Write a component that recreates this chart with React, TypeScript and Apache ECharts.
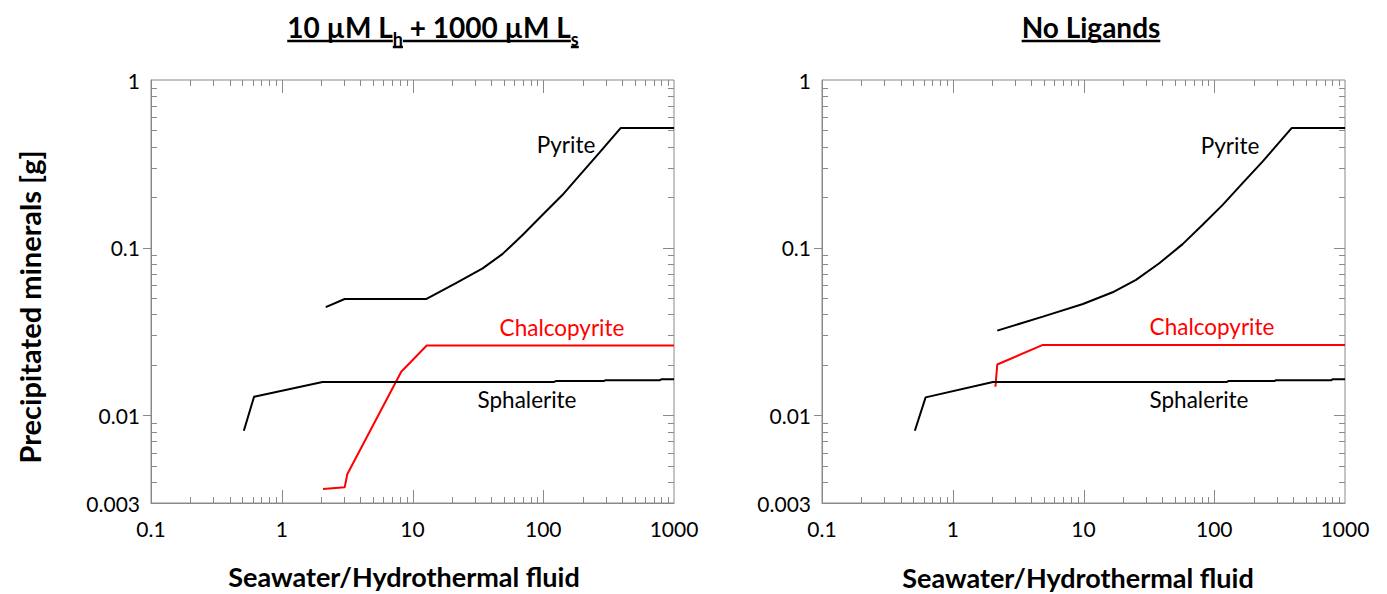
import { useEffect, useRef } from 'react';
import * as echarts from 'echarts';

// ---------- axes ----------
const X_MIN = 0.1;
const X_MAX = 1000;
const Y_MIN = 0.003;
const Y_MAX = 1;
const xTickLabels = ['0.1', '1', '10', '100', '1000'];
const yTickLabels = ['0.003', '0.01', '0.1', '1'];
const xMajorTicks = [1, 10, 100];
const xMinorTicks = [
  0.2, 0.3, 0.4, 0.5, 0.6, 0.7, 0.8, 0.9,
  2, 3, 4, 5, 6, 7, 8, 9,
  20, 30, 40, 50, 60, 70, 80, 90,
  200, 300, 400, 500, 600, 700, 800, 900,
];
const yMajorTicks = [0.01, 0.1];
const yMinorTicks = [
  0.004, 0.005, 0.006, 0.007, 0.008, 0.009,
  0.02, 0.03, 0.04, 0.05, 0.06, 0.07, 0.08, 0.09,
  0.2, 0.3, 0.4, 0.5, 0.6, 0.7, 0.8, 0.9,
];

// ---------- left panel: 10 µM Lh + 1000 µM Ls ----------
const ligPyriteX = [2.17, 3.03, 12.7, 21.5, 34.4, 48.9, 69.5, 98.9, 140, 188, 267, 392, 1000];
const ligPyriteY = [0.0442, 0.0494, 0.0494, 0.0614, 0.0753, 0.0918, 0.119, 0.157, 0.206, 0.268, 0.366, 0.518, 0.518];
const ligChalcoX = [2.07, 3.03, 3.17, 8.2, 12.85, 1000];
const ligChalcoY = [0.00364, 0.00372, 0.00445, 0.0182, 0.0261, 0.0261];
const ligSphalX = [0.513, 0.614, 2.05, 120, 125, 290, 300, 780, 800, 1000];
const ligSphalY = [0.00809, 0.0129, 0.0158, 0.0158, 0.016, 0.016, 0.0162, 0.0162, 0.0164, 0.0164];

// ---------- right panel: No Ligands ----------
const noPyriteX = [2.19, 4.89, 9.9, 16.7, 25.2, 38, 57.3, 81.5, 116, 164, 234, 392, 1000];
const noPyriteY = [0.032, 0.0388, 0.0461, 0.0542, 0.0643, 0.0807, 0.105, 0.137, 0.18, 0.242, 0.326, 0.518, 0.518];
const noChalcoX = [2.12, 2.19, 4.89, 1000];
const noChalcoY = [0.0148, 0.0201, 0.0263, 0.0263];
const noSphalX = [0.513, 0.62, 2.03, 125, 128, 290, 295, 790, 800, 1000];
const noSphalY = [0.00809, 0.0128, 0.0158, 0.0158, 0.016, 0.016, 0.0162, 0.0162, 0.0164, 0.0164];

const xTitle = 'Seawater/Hydrothermal fluid';
const yTitle = 'Precipitated minerals [g]';
const leftTitle = [
  { t: '10 µM L', sub: false },
  { t: 'h', sub: true },
  { t: ' + 1000 µM L', sub: false },
  { t: 's', sub: true },
];
const rightTitle = [{ t: 'No Ligands', sub: false }];

const FONT = 'Lato';
const TICK_COLOR = '#8a8a8a';
const RED = '#ff0000';

const zip = (xs: number[], ys: number[]) => xs.map((x, i) => [x, ys[i]]);

function nearestLabel(v: number, labels: string[]) {
  let best = labels[0];
  let bd = Infinity;
  for (const l of labels) {
    const d = Math.abs(Math.log10(v) - Math.log10(parseFloat(l)));
    if (d < bd) {
      bd = d;
      best = l;
    }
  }
  return best;
}

function measure(text: string, font: string) {
  const ctx = document.createElement('canvas').getContext('2d')!;
  ctx.font = font;
  return ctx.measureText(text).width;
}

function titleElements(pieces: { t: string; sub: boolean }[], cx: number) {
  const mainSize = 28;
  const subSize = 18;
  const fonts = pieces.map((p) => `bold ${p.sub ? subSize : mainSize}px ${FONT}`);
  const widths = pieces.map((p, i) => measure(p.t, fonts[i]));
  const total = widths.reduce((a, b) => a + b, 0);
  let x = cx - total / 2;
  const children: any[] = [];
  pieces.forEach((p, i) => {
    const fs = p.sub ? subSize : mainSize;
    const baseline = p.sub ? 44 : 35;
    children.push({
      type: 'text',
      x,
      y: baseline - 0.3 * fs,
      style: {
        text: p.t,
        fontFamily: FONT,
        fontWeight: 'bold',
        fontSize: fs,
        fill: '#000',
        align: 'left',
        verticalAlign: 'middle',
      },
    });
    const uy = p.sub ? 47 : 41;
    children.push({
      type: 'line',
      shape: { x1: x, y1: uy, x2: x + widths[i], y2: uy },
      style: { stroke: '#000', lineWidth: 2.5 },
    });
    x += widths[i];
  });
  return children;
}

function textEl(text: string, x: number, y: number, size: number, color: string, bold = false, rotation = 0) {
  return {
    type: 'text',
    x,
    y,
    rotation,
    style: {
      text,
      fontFamily: FONT,
      fontSize: size,
      fontWeight: bold ? 'bold' : 'normal',
      fill: color,
      align: 'center',
      verticalAlign: 'middle',
    },
  };
}

function tickSeries(gridIndex: number) {
  const xData = [
    ...xMajorTicks.map((v) => [v, Y_MIN, 1]),
    ...xMinorTicks.map((v) => [v, Y_MIN, 0]),
  ];
  const yData = [
    ...yMajorTicks.map((v) => [X_MIN, v, 1]),
    ...yMinorTicks.map((v) => [X_MIN, v, 0]),
  ];
  const ls = { stroke: TICK_COLOR, lineWidth: 1 };
  return [
    {
      type: 'custom',
      xAxisIndex: gridIndex,
      yAxisIndex: gridIndex,
      silent: true,
      clip: false,
      dimensions: ['x', 'y', 'major'],
      encode: { x: 0, y: 1 },
      data: xData,
      renderItem: (_p: any, api: any) => {
        const v = api.value(0);
        const len = api.value(2) ? 13 : 6;
        const b = api.coord([v, Y_MIN]);
        const t = api.coord([v, Y_MAX]);
        const bx = Math.round(b[0]) + 0.5;
        const tx = Math.round(t[0]) + 0.5;
        return {
          type: 'group',
          children: [
            { type: 'line', shape: { x1: bx, y1: b[1], x2: bx, y2: b[1] - len }, style: ls },
            { type: 'line', shape: { x1: tx, y1: t[1], x2: tx, y2: t[1] + len }, style: ls },
          ],
        };
      },
    },
    {
      type: 'custom',
      xAxisIndex: gridIndex,
      yAxisIndex: gridIndex,
      silent: true,
      clip: false,
      dimensions: ['x', 'y', 'major'],
      encode: { x: 0, y: 1 },
      data: yData,
      renderItem: (_p: any, api: any) => {
        const v = api.value(1);
        const major = api.value(2);
        const l = api.coord([X_MIN, v]);
        const r = api.coord([X_MAX, v]);
        const ly = Math.round(l[1]) + 0.5;
        const ry = Math.round(r[1]) + 0.5;
        return {
          type: 'group',
          children: [
            major
              ? { type: 'line', shape: { x1: l[0] - 8, y1: ly, x2: l[0], y2: ly }, style: ls }
              : { type: 'line', shape: { x1: l[0], y1: ly, x2: l[0] + 6, y2: ly }, style: ls },
            { type: 'line', shape: { x1: r[0] - (major ? 11 : 6), y1: ry, x2: r[0], y2: ry }, style: ls },
          ],
        };
      },
    },
  ];
}

function lineSeries(gridIndex: number, name: string, xs: number[], ys: number[], color: string) {
  return {
    type: 'line',
    name,
    xAxisIndex: gridIndex,
    yAxisIndex: gridIndex,
    data: zip(xs, ys),
    showSymbol: false,
    symbol: 'none',
    silent: true,
    lineStyle: { color, width: 2 },
    itemStyle: { color },
    z: 3,
  };
}

const axisLineStyle = { show: true, lineStyle: { color: TICK_COLOR, width: 1 } };

function xAxis(gridIndex: number) {
  return {
    type: 'log',
    logBase: 10,
    gridIndex,
    min: X_MIN,
    max: X_MAX,
    axisLine: axisLineStyle,
    axisTick: { show: false },
    splitLine: { show: false },
    minorTick: { show: false },
    axisLabel: {
      color: '#000',
      fontFamily: FONT,
      fontSize: 21,
      margin: 15,
      formatter: (v: number) => nearestLabel(v, xTickLabels),
    },
  };
}

function yAxis(gridIndex: number) {
  return {
    type: 'log',
    logBase: 10,
    gridIndex,
    min: Y_MIN,
    max: Y_MAX,
    axisLine: axisLineStyle,
    axisTick: { show: false },
    splitLine: { show: false },
    minorTick: { show: false },
    axisLabel: {
      color: '#000',
      fontFamily: FONT,
      fontSize: 21,
      margin: 11,
      formatter: (v: number) => nearestLabel(v, yTickLabels),
    },
  };
}

export default function App() {
  const ref = useRef<HTMLDivElement>(null);
  useEffect(() => {
    document.body.style.margin = '0';
    if (!ref.current) return;
    const chart = echarts.init(ref.current, undefined, { renderer: 'svg' });
    const gridBase = { top: 80, width: 523, height: 423, show: true, borderColor: TICK_COLOR, borderWidth: 1, backgroundColor: 'transparent' };
    chart.setOption({
      animation: false,
      backgroundColor: '#fff',
      grid: [
        { ...gridBase, left: 151 },
        { ...gridBase, left: 822 },
      ],
      xAxis: [xAxis(0), xAxis(1)],
      yAxis: [yAxis(0), yAxis(1)],
      series: [
        ...tickSeries(0),
        ...tickSeries(1),
        lineSeries(0, 'Pyrite', ligPyriteX, ligPyriteY, '#000'),
        lineSeries(0, 'Chalcopyrite', ligChalcoX, ligChalcoY, RED),
        lineSeries(0, 'Sphalerite', ligSphalX, ligSphalY, '#000'),
        lineSeries(1, 'Pyrite', noPyriteX, noPyriteY, '#000'),
        lineSeries(1, 'Chalcopyrite', noChalcoX, noChalcoY, RED),
        lineSeries(1, 'Sphalerite', noSphalX, noSphalY, '#000'),
      ],
      graphic: [
        ...titleElements(leftTitle, 433),
        ...titleElements(rightTitle, 1091),
        textEl('Pyrite', 566, 144, 22.5, '#000'),
        textEl('Chalcopyrite', 562, 327, 22.5, RED),
        textEl('Sphalerite', 527, 399, 22.5, '#000'),
        textEl('Pyrite', 1230, 145, 22.5, '#000'),
        textEl('Chalcopyrite', 1212, 326, 22.5, RED),
        textEl('Sphalerite', 1199, 399, 22.5, '#000'),
        textEl(xTitle, 404, 576, 27, '#000', true),
        textEl(xTitle, 1078, 577, 27, '#000', true),
        textEl(yTitle, 29, 307, 29, '#000', true, Math.PI / 2),
      ],
    });
    return () => chart.dispose();
  }, []);
  return <div ref={ref} style={{ width: 1387, height: 594 }} />;
}
